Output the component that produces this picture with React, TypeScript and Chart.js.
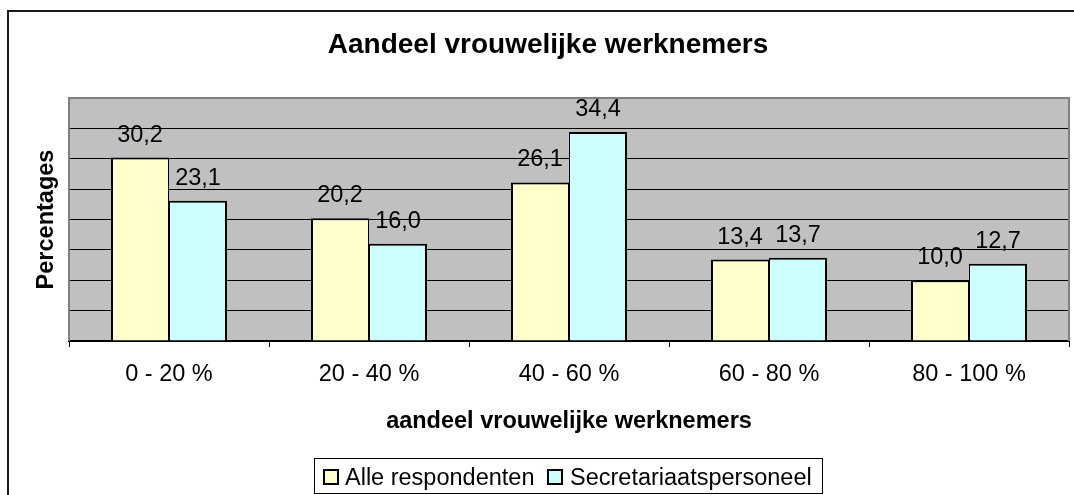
import React, { useEffect, useRef } from "react";
import { Chart, registerables } from "chart.js";

Chart.register(...registerables);

const categories = ["0 - 20 %", "20 - 40 %", "40 - 60 %", "60 - 80 %", "80 - 100 %"];
const alleRespondenten = [30.2, 20.2, 26.1, 13.4, 10.0];
const secretariaatspersoneel = [23.1, 16.0, 34.4, 13.7, 12.7];
const seriesLabels = ["Alle respondenten", "Secretariaatspersoneel"];
const seriesColors = ["#FFFFCC", "#CCFFFF"];
const yMin = 0;
const yMax = 40;
const yStep = 5;

const chartTitle = "Aandeel vrouwelijke werknemers";
const xTitle = "aandeel vrouwelijke werknemers";
const yTitle = "Percentages";

const FONT = "'Liberation Sans', Arial, Helvetica, sans-serif";
const TXT = 23.5;

const fmt = (v: number) => v.toFixed(1).replace(".", ",");

const decorPlugin = {
  id: "decor",
  beforeDraw(chart: any) {
    const { ctx, chartArea } = chart;
    ctx.save();
    ctx.fillStyle = "#FFFFFF";
    ctx.fillRect(0, 0, chart.width, chart.height);
    // outer border
    ctx.strokeStyle = "#1a1a1a";
    ctx.lineWidth = 2;
    ctx.strokeRect(8, 11, 2000, 2000);
    // plot background
    ctx.fillStyle = "#C0C0C0";
    ctx.fillRect(chartArea.left, chartArea.top, chartArea.right - chartArea.left, chartArea.bottom - chartArea.top);
    ctx.restore();
  },
  beforeDatasetsDraw(chart: any) {
    const { ctx, chartArea } = chart;
    ctx.save();
    ctx.strokeStyle = "#808080";
    ctx.lineWidth = 2;
    ctx.beginPath();
    ctx.moveTo(chartArea.left, chartArea.bottom);
    ctx.lineTo(chartArea.left, chartArea.top);
    ctx.lineTo(chartArea.right, chartArea.top);
    ctx.lineTo(chartArea.right, chartArea.bottom);
    ctx.stroke();
    ctx.restore();
  },
  afterDraw(chart: any) {
    const { ctx, chartArea } = chart;
    ctx.save();
    ctx.fillStyle = "#000";
    // title
    ctx.font = `bold 28px ${FONT}`;
    ctx.textAlign = "center";
    ctx.textBaseline = "alphabetic";
    ctx.fillText(chartTitle, 548, 53);
    // x title
    ctx.font = `bold 23.5px ${FONT}`;
    ctx.fillText(xTitle, (chartArea.left + chartArea.right) / 2, 428);
    // y title
    ctx.save();
    ctx.translate(53, (chartArea.top + chartArea.bottom) / 2);
    ctx.rotate(-Math.PI / 2);
    ctx.fillText(yTitle, 0, 0);
    ctx.restore();

    // data labels
    ctx.font = `${TXT}px ${FONT}`;
    chart.data.datasets.forEach((ds: any, di: number) => {
      const meta = chart.getDatasetMeta(di);
      meta.data.forEach((bar: any, i: number) => {
        ctx.fillText(fmt(ds.data[i]), bar.x, bar.y - 16);
      });
    });

    // legend
    ctx.strokeStyle = "#000";
    ctx.lineWidth = 1;
    ctx.strokeRect(314.5, 458.5, 508, 35);
    const items = [
      { sx: 323, tx: 345 },
      { sx: 547, tx: 570 },
    ];
    ctx.textAlign = "left";
    ctx.font = `${TXT}px ${FONT}`;
    items.forEach((it, k) => {
      ctx.fillStyle = seriesColors[k];
      ctx.fillRect(it.sx, 469, 16, 16);
      ctx.strokeStyle = "#000";
      ctx.lineWidth = 2;
      ctx.strokeRect(it.sx + 1, 470, 14, 14);
      ctx.fillStyle = "#000";
      ctx.fillText(seriesLabels[k], it.tx, 485);
    });
    ctx.restore();
  },
};

export default function App() {
  const ref = useRef<HTMLCanvasElement | null>(null);
  useEffect(() => {
    if (!ref.current) return;
    const chart = new Chart(ref.current, {
      type: "bar",
      data: {
        labels: categories,
        datasets: [
          {
            label: seriesLabels[0],
            data: alleRespondenten,
            backgroundColor: seriesColors[0],
            borderColor: "#000",
            borderWidth: { top: 2, left: 2, right: 1, bottom: 0 },
            borderSkipped: false,
            categoryPercentage: 0.58,
            barPercentage: 1,
          },
          {
            label: seriesLabels[1],
            data: secretariaatspersoneel,
            backgroundColor: seriesColors[1],
            borderColor: "#000",
            borderWidth: { top: 2, left: 1, right: 2, bottom: 0 },
            borderSkipped: false,
            categoryPercentage: 0.58,
            barPercentage: 1,
          },
        ],
      },
      options: {
        responsive: false,
        animation: false,
        layout: { padding: { left: 69, right: 5, top: 98, bottom: 0 } },
        plugins: {
          legend: { display: false },
          title: { display: false },
          tooltip: { enabled: false },
        },
        scales: {
          x: {
            afterFit: (s: any) => {
              s.height = 154;
            },
            grid: {
              offset: true,
              drawOnChartArea: false,
              drawTicks: true,
              tickLength: 6,
              color: "#000",
              lineWidth: 1,
            },
            border: { display: true, color: "#000", width: 2 },
            ticks: {
              color: "#000",
              padding: 13,
              font: { family: FONT, size: TXT },
              maxRotation: 0,
              autoSkip: false,
            },
          },
          y: {
            min: yMin,
            max: yMax,
            afterFit: (s: any) => {
              s.width = 0;
            },
            ticks: { display: false, stepSize: yStep },
            grid: { color: "#000", lineWidth: 1, drawTicks: false },
            border: { display: false },
          },
        },
      },
      plugins: [decorPlugin],
    });
    return () => chart.destroy();
  }, []);
  return (
    <div style={{ position: "absolute", left: 0, top: 0, width: 1074, height: 495 }}>
      <canvas ref={ref} width={1074} height={495} style={{ display: "block" }} />
    </div>
  );
}
